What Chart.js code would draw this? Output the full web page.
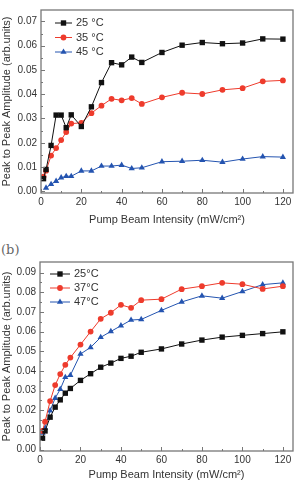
<!DOCTYPE html>
<html>
<head>
<meta charset="utf-8">
<script src="https://cdn.jsdelivr.net/npm/chart.js@4.4.1/dist/chart.umd.min.js"></script>
<style>
body { margin: 0; background: #fff; width: 298px; height: 486px; position: relative; overflow: hidden; }
#c1 { position: absolute; left: 0; top: 0; }
#c2 { position: absolute; left: 0; top: 240px; }
#lblB { position: absolute; left: 1px; top: 242px; font: 13px "DejaVu Serif", serif; color: #666; }
</style>
</head>
<body>
<canvas id="c1" width="298" height="240"></canvas>
<div id="lblB">(b)</div>
<canvas id="c2" width="298" height="246"></canvas>
<script>
// pump intensity (mW/cm2)
const xVals = [1.25, 2.5, 5, 7.5, 10, 12.5, 15, 20, 25, 30, 35, 40, 45, 50, 60, 70, 80, 90, 100, 110, 120];

// top chart
const topLabels = ['25 °C', '35 °C', '45 °C'];
const top25 = [0.0052, 0.0090, 0.0189, 0.0314, 0.0314, 0.0262, 0.0315, 0.0267, 0.0348, 0.0448, 0.0530, 0.0521, 0.0553, 0.0531, 0.0572, 0.0602, 0.0613, 0.0608, 0.0611, 0.0628, 0.0627];
const top35 = [0.0060, 0.0085, 0.0147, 0.0178, 0.0211, 0.0244, 0.0279, 0.0282, 0.0322, 0.0353, 0.0381, 0.0375, 0.0384, 0.0360, 0.0387, 0.0406, 0.0401, 0.0418, 0.0425, 0.0453, 0.0457];
const top45 = [null, 0.0014, 0.0029, 0.0042, 0.0056, 0.0062, 0.0062, 0.0084, 0.0084, 0.0104, 0.0104, 0.0108, 0.0094, 0.0097, 0.0122, 0.0124, 0.0128, 0.0120, 0.0133, 0.0143, 0.0141];

// bottom chart (b)
const botLabels = ['25°C', '37°C', '47°C'];
const bot25 = [0.0058, 0.0095, 0.0165, 0.0216, 0.0253, 0.0287, 0.0311, 0.0352, 0.0386, 0.0419, 0.0440, 0.0464, 0.0475, 0.0495, 0.0512, 0.0537, 0.0557, 0.0572, 0.0581, 0.0590, 0.0599];
const bot37 = [0.0095, 0.0142, 0.0247, 0.0328, 0.0384, 0.0431, 0.0468, 0.0534, 0.0600, 0.0665, 0.0696, 0.0736, 0.0721, 0.0760, 0.0765, 0.0816, 0.0831, 0.0848, 0.0841, 0.0817, 0.0831];
const bot47 = [0.0085, 0.0110, 0.0198, 0.0262, 0.0307, 0.0368, 0.0378, 0.0486, 0.0520, 0.0571, 0.0601, 0.0630, 0.0659, 0.0662, 0.0708, 0.0751, 0.0782, 0.0770, 0.0804, 0.0839, 0.0848];

const colors = ['#111111', '#ee3b2c', '#2454b0'];
const shapes = ['rect', 'circle', 'triangle'];
const radii = [3.8, 2.9, 3.6];
const FONT = '"Liberation Sans", Arial, sans-serif';

function pts(ys) {
    return xVals.map((x, i) => ({ x: x, y: ys[i] }));
}

// frame, inward ticks and the legend
const framePlugin = {
    id: 'frame',
    afterDraw(chart, args, opts) {
        const ctx = chart.ctx;
        const a = chart.chartArea;
        const xs = chart.scales.x, ys = chart.scales.y;
        ctx.save();
        ctx.strokeStyle = '#777';
        ctx.lineWidth = 1;
        // ticks
        ctx.beginPath();
        for (let v = 0; v <= 120; v += 10) {
            const px = Math.round(xs.getPixelForValue(v)) + 0.5;
            const len = v % 20 === 0 ? 4 : 2;
            ctx.moveTo(px, a.bottom); ctx.lineTo(px, a.bottom - len);
        }
        for (let k = 0; k <= opts.yMinors; k++) {
            const v = k * 0.005;
            const py = Math.round(ys.getPixelForValue(v)) + 0.5;
            const len = k % 2 === 0 ? 4 : 2;
            ctx.moveTo(a.left, py); ctx.lineTo(a.left + len, py);
        }
        ctx.stroke();
        ctx.lineWidth = 1.3;
        ctx.strokeRect(a.left, a.top, a.right - a.left, a.bottom - a.top);

        // legend
        ctx.font = '11px ' + FONT;
        ctx.textBaseline = 'middle';
        chart.data.datasets.forEach((ds, i) => {
            const y = a.top + opts.legTop + i * opts.legGap;
            const x0 = a.left + opts.legX0, x1 = a.left + opts.legX1;
            ctx.strokeStyle = ds.borderColor;
            ctx.lineWidth = 1;
            ctx.beginPath(); ctx.moveTo(x0, y); ctx.lineTo(x1, y); ctx.stroke();
            ctx.fillStyle = ds.borderColor;
            Chart.helpers.drawPoint(ctx, { pointStyle: ds.pointStyle, radius: ds.pointRadius, borderWidth: 0 }, (x0 + x1) / 2, y);
            ctx.fillStyle = '#333';
            ctx.fillText(ds.label, x1 + 4, y);
        });
        ctx.restore();
    }
};

function makeChart(id, labels, series, yMax, yMinors, lay) {
    const datasets = series.map((s, i) => ({
        label: labels[i],
        data: pts(s),
        showLine: true,
        borderColor: colors[i],
        backgroundColor: colors[i],
        borderWidth: 1,
        pointStyle: shapes[i],
        pointRadius: radii[i],
        pointBorderWidth: 0
    }));
    return new Chart(document.getElementById(id), {
        type: 'scatter',
        data: { datasets: datasets },
        plugins: [framePlugin],
        options: {
            responsive: false,
            animation: false,
            layout: { padding: { top: lay.padTop, right: 5, left: 0, bottom: 0 } },
            plugins: {
                legend: { display: false },
                tooltip: { enabled: false },
                frame: { yMinors: yMinors, legTop: lay.legTop, legGap: lay.legGap, legX0: lay.legX0, legX1: lay.legX1 }
            },
            scales: {
                x: {
                    type: 'linear', min: 0, max: 125,
                    afterFit: s => { s.height = lay.xH; },
                    grid: { display: false, drawTicks: false },
                    border: { display: false },
                    ticks: { stepSize: 20, includeBounds: false, padding: 3, color: '#333', font: { size: 10, family: FONT } },
                    title: { display: true, text: 'Pump Beam Intensity (mW/cm²)', color: '#333', padding: { top: 0, bottom: lay.xTitlePad }, font: { size: 11, family: FONT } }
                },
                y: {
                    type: 'linear', min: -0.0007, max: yMax,
                    afterFit: s => { s.width = lay.yW; },
                    grid: { display: false, drawTicks: false },
                    border: { display: false },
                    ticks: { stepSize: 0.01, includeBounds: false, padding: 4, color: '#333', font: { size: 10, family: FONT }, callback: v => v.toFixed(2) },
                    title: { display: true, text: 'Peak to Peak Amplitude (arb.units)', color: '#333', padding: { top: 0, bottom: 0 }, font: { size: 11, family: FONT } }
                }
            }
        }
    });
}

makeChart('c1', topLabels, [top25, top35, top45], 0.0747, 14,
    { padTop: 3, xH: 47, yW: 41, xTitlePad: 13, legTop: 13, legGap: 14.5, legX0: 14, legX1: 31 });
makeChart('c2', botLabels, [bot25, bot37, bot47], 0.0954, 18,
    { padTop: 22, xH: 35, yW: 40, xTitlePad: 4, legTop: 12, legGap: 14, legX0: 10, legX1: 30 });
</script>
</body>
</html>
